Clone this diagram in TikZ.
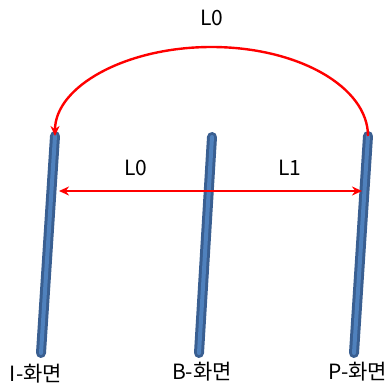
\documentclass[tikz,border=0pt]{standalone}
\usepackage{fontspec}
\setmainfont{Noto Sans CJK KR}
\definecolor{barblue}{RGB}{58,95,145}
\definecolor{barlight}{RGB}{79,129,189}
\definecolor{arcred}{RGB}{255,0,0}
\usepackage{tikz}
\usetikzlibrary{arrows.meta,positioning}

\begin{document}
\begin{tikzpicture}[x=1pt,y=1pt,
		bar/.style={line width=10pt, line cap=round, barblue},
		barcore/.style={line width=4pt, line cap=round, barlight},
		arrow/.style={-{Stealth[length=10pt,width=9pt]}, line width=2.4pt, arcred},
		lbl/.style={font=\fontsize{21}{24}\selectfont, inner sep=0pt}
	]
		\useasboundingbox (0,0) rectangle (390,389);
		% the three planes
		\coordinate (itop) at (55,253);
		\coordinate (ibot) at (41,36);
		\coordinate (btop) at (212,252);
		\coordinate (bbot) at (199,36);
		\coordinate (ptop) at (368,253);
		\coordinate (pbot) at (354,36);
		\draw[bar] (itop) -- (ibot);
		\draw[bar] (btop) -- (bbot);
		\draw[bar] (ptop) -- (pbot);
		\draw[barcore] (itop) -- (ibot);
		\draw[barcore] (btop) -- (bbot);
		\draw[barcore] (ptop) -- (pbot);
		\node[lbl] (ilbl) at (36,15) {I-화면};
		\node[lbl] (blbl) at (202,17) {B-화면};
		\node[lbl] (plbl) at (358,17) {P-화면};
		% reference arrows
		\coordinate (la) at (59,198);
		\coordinate (ra) at (362,198);
		\draw[arrow] (ptop) arc[start angle=0, end angle=180, x radius=156.5, y radius=89];
		\draw[arrow, {Stealth[length=10pt,width=9pt]}-{Stealth[length=10pt,width=9pt]}] (la) -- (ra);
		\node[lbl] (ltop) at (212,371) {L0};
		\node[lbl] (lleft) at (136,221) {L0};
		\node[lbl] (lright) at (290,221) {L1};
	\end{tikzpicture}
\end{document}
